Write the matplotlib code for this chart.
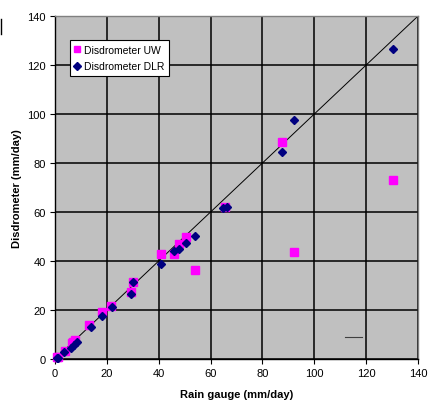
import matplotlib.pyplot as plt
from matplotlib.lines import Line2D

# data (mm/day)
uw_gauge = [0.6, 1.0, 3.9, 6.4, 7.0, 7.7, 13.2, 18.0, 21.5, 29.2, 30.0, 40.9,
            45.9, 47.8, 50.5, 54.0, 65.6, 87.5, 92.0, 130.5]
uw_disdro = [0.7, 1.0, 3.4, 6.4, 7.0, 7.8, 13.9, 19.3, 21.8, 27.5, 31.6, 42.7,
             42.9, 46.8, 49.9, 36.5, 61.9, 88.6, 43.8, 73.0]

dlr_gauge = [0.9, 1.2, 3.5, 6.0, 7.3, 8.4, 13.8, 18.0, 21.9, 29.3, 30.2, 41.0,
             45.9, 47.8, 50.5, 54.0, 64.7, 66.2, 87.7, 92.3, 130.3]
dlr_disdro = [0.3, 0.6, 2.7, 4.4, 5.7, 7.1, 12.9, 17.7, 21.2, 26.5, 31.6, 38.6,
              44.1, 44.9, 47.3, 50.1, 61.7, 61.9, 84.4, 97.4, 126.5]

one_to_one = [0, 140]
stray_x = [111.8, 118.3]
stray_y = [8.9, 8.9]
ticks = list(range(0, 141, 20))

plt.rcParams['font.family'] = ['Arial', 'Liberation Sans', 'DejaVu Sans']

fig = plt.figure(figsize=(4.35, 4.10), dpi=100)
ax = fig.add_axes([0.1264, 0.122, 0.8346, 0.8365])
ax.set_facecolor('#C0C0C0')

ax.plot(one_to_one, one_to_one, color='black', lw=0.7, zorder=2)
ax.plot(uw_gauge, uw_disdro, ls='none', marker='s', ms=6, color='#FF00FF',
        mec='#FF00FF', zorder=3, label='Disdrometer UW', clip_on=False)
ax.plot(dlr_gauge, dlr_disdro, ls='none', marker='D', ms=4.2, color='#000080',
        mec='#000080', zorder=4, label='Disdrometer DLR', clip_on=False)
ax.plot(stray_x, stray_y, color='#404040', lw=0.8, zorder=2)

ax.set_xlim(0, 140)
ax.set_ylim(0, 140)
ax.set_xticks(ticks)
ax.set_yticks(ticks)
ax.grid(True, color='black', lw=1.1)
ax.set_axisbelow(True)
ax.tick_params(direction='out', length=3.5, width=0.8, labelsize=8, pad=3,
               color='black')

for side in ['top', 'right']:
    ax.spines[side].set_color('#808080')
for side in ['left', 'bottom']:
    ax.spines[side].set_color('black')
for sp in ax.spines.values():
    sp.set_linewidth(1.0)

ax.set_xlabel('Rain gauge (mm/day)', fontsize=8, fontweight='bold', labelpad=8)
ax.set_ylabel('Disdrometer (mm/day)', fontsize=8, fontweight='bold', labelpad=4)

handles = [Line2D([], [], ls='none', marker='s', ms=5, color='#FF00FF'),
           Line2D([], [], ls='none', marker='D', ms=4, color='#000080')]
leg = ax.legend(handles, ['Disdrometer UW', 'Disdrometer DLR'],
                loc='upper left', bbox_to_anchor=(0.04, 0.93), fontsize=7.5,
                fancybox=False, framealpha=1, edgecolor='black',
                handlelength=0.6, handletextpad=0.3, borderpad=0.45,
                labelspacing=0.65, borderaxespad=0)
leg.get_frame().set_linewidth(0.8)

# stray mark at the top left edge of the picture
fig.add_artist(Line2D([0.002, 0.002], [0.915, 0.951], color='black', lw=1.0))

fig.savefig('out.png', dpi=100)
